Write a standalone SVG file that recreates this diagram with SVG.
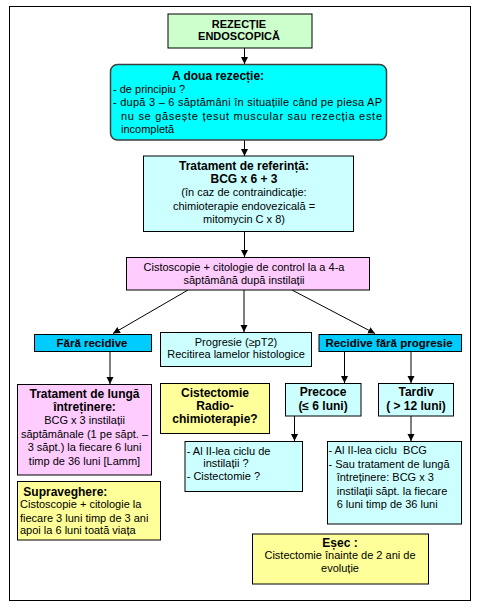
<svg xmlns="http://www.w3.org/2000/svg" width="477" height="611" viewBox="0 0 477 611">
<defs>
<marker id="ah" markerUnits="userSpaceOnUse" markerWidth="8" markerHeight="8" refX="7" refY="3.5" orient="auto">
<path d="M0,0 L7,3.5 L0,7 Z" fill="#000"/>
</marker>
<style>
text{font-family:"Liberation Sans",Arial,sans-serif;font-size:11px;fill:#000}
.b{font-weight:bold;font-size:12px}
.bs{font-weight:bold;font-size:11.5px}
.c{text-anchor:middle}
.box{stroke:#000;stroke-width:1}
.ln{stroke:#000;stroke-width:1;fill:none}
.ar{stroke:#000;stroke-width:1;fill:none;marker-end:url(#ah)}
</style>
</defs>
<rect x="0" y="0" width="477" height="611" fill="#fff"/>
<rect x="9.5" y="6.5" width="461" height="594" fill="none" stroke="#000" stroke-width="1"/>

<g id="connectors">
<path class="ar" d="M244.5,48 V64"/>
<path class="ar" d="M244.5,140 V156"/>
<path class="ar" d="M244.5,232 V257"/>
<path class="ar" d="M188,290 L113,333.5"/>
<path class="ar" d="M244,290 V332"/>
<path class="ar" d="M292,290 L375,333.5"/>
<path class="ar" d="M110,352 V384"/>
<path class="ar" d="M344.5,352 V383"/>
<path class="ar" d="M411,352 V383"/>
<path class="ar" d="M294.5,416 V441"/>
<path class="ar" d="M411,416 V441"/>
</g>

<g id="n1">
<rect class="box" x="168" y="14" width="144" height="34" fill="#ccffcc"/>
<text class="c" x="239" y="27.7" style="font-weight:bold;font-size:11px">REZECȚIE</text>
<text class="c" x="239" y="40.3" style="font-weight:bold;font-size:11px">ENDOSCOPICĂ</text>
</g>

<g id="n2">
<rect x="110.5" y="64.5" width="276" height="75.5" rx="7" fill="#00ffff" stroke="#404040" stroke-width="1.5"/>
<text class="b c" x="218" y="79.5">A doua rezecție:</text>
<text x="113" y="93">- de principiu ?</text>
<text x="113" y="106" textLength="269" lengthAdjust="spacing">- după 3 – 6 săptămâni în situațiile când pe piesa AP</text>
<text x="121" y="119.5" textLength="261" lengthAdjust="spacing">nu se găsește țesut muscular sau rezecția este</text>
<text x="121" y="132.5">incompletă</text>
</g>

<g id="n3">
<rect class="box" x="143.5" y="156" width="210" height="75.5" fill="#ccffff"/>
<text class="b c" x="244" y="169.7">Tratament de referință:</text>
<text class="b c" x="244" y="183">BCG x 6 + 3</text>
<text class="c" x="244" y="196.3">(în caz de contraindicație:</text>
<text class="c" x="244" y="209.7">chimioterapie endovezicală =</text>
<text class="c" x="244" y="223">mitomycin C x 8)</text>
</g>

<g id="n4">
<rect class="box" x="126.5" y="257.5" width="243" height="32.5" fill="#ffccff"/>
<text class="c" x="244" y="271.3">Cistoscopie + citologie de control la a 4-a</text>
<text class="c" x="244" y="283.5">săptămână după instilații</text>
</g>

<g id="n5">
<rect class="box" x="34.5" y="334.5" width="117" height="17" fill="#00ccff"/>
<text class="bs c" x="92" y="347.2">Fără recidive</text>
</g>

<g id="n6">
<rect class="box" x="160.5" y="332.5" width="151" height="34" fill="#ccffff"/>
<text class="c" x="236" y="345.7">Progresie (≥pT2)</text>
<text class="c" x="236" y="358.2">Recitirea lamelor histologice</text>
</g>

<g id="n7">
<rect class="box" x="319" y="334.5" width="142.5" height="17" fill="#00ccff"/>
<text class="bs c" x="389" y="347.2">Recidive fără progresie</text>
</g>

<g id="n8">
<rect class="box" x="17.5" y="384.5" width="134" height="90.5" fill="#ffccff"/>
<text class="b c" x="84.5" y="397.5">Tratament de lungă</text>
<text class="b c" x="84.5" y="411.3">întreținere:</text>
<text class="c" x="84.5" y="424.2">BCG x 3 instilații</text>
<text class="c" x="84.5" y="438">săptămânale (1 pe săpt. –</text>
<text class="c" x="84.5" y="451.2">3 săpt.) la fiecare 6 luni</text>
<text class="c" x="84.5" y="464.7">timp de 36 luni [Lamm]</text>
</g>

<g id="n9">
<rect class="box" x="17.5" y="481.5" width="143" height="58.5" fill="#ffff99"/>
<text class="b" x="23.3" y="495.7">Supraveghere:</text>
<text x="20" y="508.2">Cistoscopie + citologie la</text>
<text x="20" y="521.7">fiecare 3 luni timp de 3 ani</text>
<text x="20" y="534.2">apoi la 6 luni toată viața</text>
</g>

<g id="n10">
<rect class="box" x="160.5" y="383.5" width="109" height="50" fill="#ffff99"/>
<text class="b c" x="215" y="396.5">Cistectomie</text>
<text class="b c" x="215" y="409.8">Radio-</text>
<text class="b c" x="215" y="423.2">chimioterapie?</text>
</g>

<g id="n11">
<rect class="box" x="285.5" y="383.5" width="75.5" height="32.5" fill="#ccffff"/>
<text class="b c" x="323" y="395.8">Precoce</text>
<text class="b c" x="323" y="409.8">(≤ 6 luni)</text>
</g>

<g id="n12">
<rect class="box" x="378.5" y="383.5" width="75" height="32.5" fill="#ccffff"/>
<text class="b c" x="416" y="395.8">Tardiv</text>
<text class="b c" x="416" y="409.8">( &gt; 12 luni)</text>
</g>

<g id="n13">
<rect class="box" x="185" y="441.5" width="117.5" height="50" fill="#ccffff"/>
<text x="186.7" y="454.8">- Al II-lea ciclu de</text>
<text x="203.3" y="467.4">instilații ?</text>
<text x="186.7" y="480.2">- Cistectomie ?</text>
</g>

<g id="n14">
<rect class="box" x="327.5" y="441.5" width="134" height="82.5" fill="#ccffff"/>
<text x="328.5" y="454.2" xml:space="preserve">- Al II-lea ciclu  BCG</text>
<text x="328.5" y="468">- Sau tratament de lungă</text>
<text x="336.7" y="481.4">întreținere: BCG x 3</text>
<text x="336.7" y="494.8">instilații săpt. la fiecare</text>
<text x="336.7" y="508.2">6 luni timp de 36 luni</text>
</g>

<g id="n15">
<rect class="box" x="252.5" y="534" width="176" height="50" fill="#ffff99"/>
<text class="b c" x="340" y="546.5">Eșec :</text>
<text class="c" x="340" y="559.2">Cistectomie înainte de 2 ani de</text>
<text class="c" x="340" y="571.8">evoluție</text>
</g>
</svg>
